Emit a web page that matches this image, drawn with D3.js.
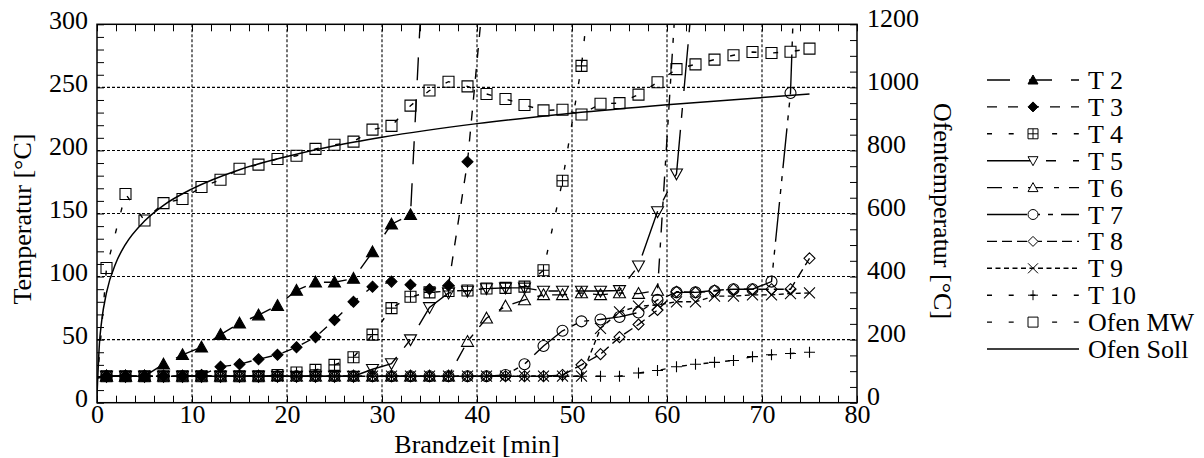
<!DOCTYPE html>
<html>
<head>
<meta charset="utf-8">
<script src="https://cdn.jsdelivr.net/npm/d3@7"></script>
<style>
  body { margin: 0; background: #fff; }
  #chart text { font-size: 26px; fill: #000; }
</style>
</head>
<body>
<svg id="chart" width="1204" height="458"></svg>
<script>
// Brandzeit [min] of the measured points
const minutes = [0, 1, 3, 5, 7, 9, 11, 13, 15, 17, 19, 21, 23, 25, 27, 29, 31, 33, 35, 37,
                 39, 41, 43, 45, 47, 49, 51, 53, 55, 57, 59, 61, 63, 65, 67, 69, 71, 73, 75];

// thermocouples, left axis [°C]
const t2 = [20, 21, 21, 21, 30.5, 38, 44, 54, 63, 69.5, 77, 89, 95.5, 95.5, 98.5, 119.5, 141.5, 149, 450];
const t3 = [20, 21, 21, 21, 21, 21, 22, 28.5, 30.5, 34.5, 38, 44, 52, 65.5, 80, 92, 96, 93.5, 90, 93, 191, 350];
const t4 = [20, 21, 21, 21, 21, 21, 21, 21, 21, 21, 22, 24, 26, 30, 36, 54, 75, 84, 87.5, 88.5,
            89, 90.5, 91, 92, 105, 176, 267, 410];
const t5 = [20, 21, 21, 21, 21, 21, 21, 21, 21, 21, 21, 21, 21, 21, 21, 26.5, 31, 50, 75.5, 87,
            88.5, 90.5, 91, 91, 88.5, 88.5, 88.5, 88.5, 89, 108.5, 151.5, 181.5, 350];
const t6 = [20, 21, 21, 21, 21, 21, 21, 21, 21, 21, 21, 21, 21, 21, 21, 21, 21, 21, 21, 21,
            48.5, 67, 76.5, 81.5, 85.5, 85.5, 87, 85.5, 87, 86.5, 89, 330];
const t7 = [20, 21, 21, 21, 21, 21, 21, 21, 21, 21, 21, 21, 21, 21, 21, 21, 21, 21, 21, 21,
            21, 21, 22, 30.5, 45, 57, 64.5, 66, 68, 71.5, 81.5, 87.5, 87.5, 88.5, 90, 90, 96, 245.5, 680];
const t8 = [20, 21, 21, 21, 21, 21, 21, 21, 21, 21, 21, 21, 21, 21, 21, 21, 21, 21, 21, 21,
            21, 21, 21, 21, 21, 22, 30, 38.5, 52, 62, 73.5, 88, 87.5, 89, 90, 90, 90, 90, 114.5];
const t9 = [20, 21, 21, 21, 21, 21, 21, 21, 21, 21, 21, 21, 21, 21, 21, 21, 21, 21, 21, 21,
            21, 21, 21, 21, 21, 21, 21, 59, 72, 76.5, 77.5, 80, 80, 84.5, 84.5, 85.5, 85.5, 86.5, 87];
const t10 = [20, 21, 21, 21, 21, 21, 21, 21, 21, 21, 21, 21, 21, 21, 21, 21, 21, 21, 21, 21,
             21, 21, 21, 21, 21, 21, 21, 21, 21, 23.5, 25.5, 28.5, 30.5, 32, 33.5, 36.5, 38, 39, 40];

// furnace, right axis [°C]
const ofenMW = [60, 427, 662, 578, 633, 646, 684, 707, 742, 755, 773, 783, 805, 818, 828, 866, 878, 942, 990, 1018,
                1003, 979, 963, 944, 927, 929, 914, 948, 950, 977, 1016, 1058, 1073, 1088, 1102, 1112, 1109, 1113, 1123];
const sollMinutes = [0, 0.25, 0.5, 1, 2, 3, 5, 7, 10, 15, 20, 25, 30, 40, 50, 60, 75];
const ofenSoll = [20, 185, 261, 349, 444, 502, 576, 626, 678, 739, 781, 815, 842, 885, 918, 945, 979];

// axis ticks
const xLabels = [0, 10, 20, 30, 40, 50, 60, 70, 80];
const yLabels = [0, 50, 100, 150, 200, 250, 300];
const yRightLabels = [0, 200, 400, 600, 800, 1000, 1200];

const series = [
  { name: "T 2", values: t2, marker: "triUp", fill: true, dash: "23,19" },
  { name: "T 3", values: t3, marker: "diamond", fill: true, dash: "10,11" },
  { name: "T 4", values: t4, marker: "squarePlus", fill: false, dash: "5,16.7" },
  { name: "T 5", values: t5, marker: "triDown", fill: false, dash: "47,12,10,17" },
  { name: "T 6", values: t6, marker: "triUp", fill: false, dash: "15,11,5,10" },
  { name: "T 7", values: t7, marker: "circle", fill: false, dash: "40,8,5,8,5,8" },
  { name: "T 8", values: t8, marker: "diamond", fill: false, dash: "10,5" },
  { name: "T 9", values: t9, marker: "cross", fill: false, dash: "5,3.5" },
  { name: "T 10", values: t10, marker: "plus", fill: false, dash: "5,16.7" },
  { name: "Ofen MW", values: ofenMW, marker: "square", fill: false, dash: "5,16.7", right: true }
];

const FONT = "'Liberation Serif', Tinos, 'Times New Roman', Times, 'Nimbus Roman', 'Noto Serif', 'DejaVu Serif', serif";
const svg = d3.select("#chart");
const pLeft = 97, pRight = 857, pTop = 24.3, pBottom = 402.7;

const x = d3.scaleLinear().domain([0, 80]).range([pLeft, pRight]);
const y = d3.scaleLinear().domain([0, 300]).range([pBottom, pTop]);
const yR = d3.scaleLinear().domain([0, 1200]).range([pBottom, pTop]);

svg.append("defs").append("clipPath").attr("id", "plotclip")
  .append("rect").attr("x", pLeft).attr("y", pTop).attr("width", pRight - pLeft).attr("height", pBottom - pTop);

// grid
const grid = svg.append("g").attr("stroke", "#000").attr("stroke-width", 1.1).attr("stroke-dasharray", "3,2");
grid.selectAll(".gx").data(xLabels.filter(d => d > 0 && d < 80)).join("line")
  .attr("x1", d => x(d)).attr("x2", d => x(d)).attr("y1", pTop).attr("y2", pBottom);
grid.selectAll(".gy").data(yLabels.filter(d => d > 0 && d < 300)).join("line")
  .attr("x1", pLeft).attr("x2", pRight).attr("y1", d => y(d)).attr("y2", d => y(d));

// minor ticks (inside)
const minorX = d3.range(0, 81, 2);
svg.append("g").attr("transform", `translate(0,${pBottom})`)
  .call(d3.axisBottom(x).tickValues(minorX).tickSize(-7).tickFormat(""))
  .call(g => g.select(".domain").remove());
svg.append("g").attr("transform", `translate(0,${pTop})`)
  .call(d3.axisTop(x).tickValues(minorX).tickSize(-7).tickFormat(""))
  .call(g => g.select(".domain").remove());
svg.append("g").attr("transform", `translate(${pLeft},0)`)
  .call(d3.axisLeft(y).tickValues(d3.range(0, 301, 10)).tickSize(-7).tickFormat(""))
  .call(g => g.select(".domain").remove());
svg.append("g").attr("transform", `translate(${pRight},0)`)
  .call(d3.axisRight(yR).tickValues(d3.range(0, 1201, 50)).tickSize(-7).tickFormat(""))
  .call(g => g.select(".domain").remove());

// tick labels
svg.append("g").attr("transform", `translate(0,${pBottom})`)
  .call(d3.axisBottom(x).tickValues(xLabels).tickSize(0).tickPadding(2))
  .call(g => g.select(".domain").remove());
svg.append("g").attr("transform", `translate(${pLeft},0)`)
  .call(d3.axisLeft(y).tickValues(yLabels).tickSize(0).tickPadding(9))
  .call(g => g.select(".domain").remove())
  .call(g => g.selectAll("text").attr("dy", 4));
svg.append("g").attr("transform", `translate(${pRight},0)`)
  .call(d3.axisRight(yR).tickValues(yRightLabels).tickSize(0).tickPadding(10).tickFormat(d3.format("d")))
  .call(g => g.select(".domain").remove())
  .call(g => g.selectAll("text").attr("dy", 2));
svg.selectAll("g[font-family]").attr("font-family", FONT).attr("font-size", 26);

svg.append("text").attr("x", (pLeft + pRight) / 2).attr("y", 453).attr("text-anchor", "middle").text("Brandzeit [min]");
svg.append("text").attr("transform", "translate(31,219) rotate(-90)").attr("text-anchor", "middle").text("Temperatur [°C]");
svg.append("text").attr("transform", "translate(934,211) rotate(90)").attr("text-anchor", "middle").text("Ofentemperatur [°C]");

// marker shapes
function markerPath(type, r) {
  switch (type) {
    case "triUp": return `M0,${-r}L${r},${r * 0.8}L${-r},${r * 0.8}Z`;
    case "triDown": return `M0,${r}L${r},${-r * 0.8}L${-r},${-r * 0.8}Z`;
    case "diamond": return `M0,${-r}L${r},0L0,${r}L${-r},0Z`;
    case "square": return `M${-r},${-r}H${r}V${r}H${-r}Z`;
    case "squarePlus": return `M${-r},${-r}H${r}V${r}H${-r}ZM0,${-r}V${r}M${-r},0H${r}`;
    case "circle": return `M${r},0A${r},${r} 0 1 1 ${-r},0A${r},${r} 0 1 1 ${r},0Z`;
    case "cross": return `M${-r},${-r}L${r},${r}M${-r},${r}L${r},${-r}`;
    case "plus": return `M${-r},0H${r}M0,${-r}V${r}`;
  }
}

const plot = svg.append("g").attr("clip-path", "url(#plotclip)");

// Ofen Soll
plot.append("path")
  .datum(sollMinutes.map((t, i) => ({ t, v: ofenSoll[i] })))
  .attr("fill", "none").attr("stroke", "#000").attr("stroke-width", 1.5)
  .attr("d", d3.line().x(d => x(d.t)).y(d => yR(d.v)).curve(d3.curveMonotoneX));

series.forEach(s => {
  const sc = s.right ? yR : y;
  const pts = s.values.map((v, i) => ({ t: minutes[i], v }));
  plot.append("path").datum(pts)
    .attr("fill", "none").attr("stroke", "#000").attr("stroke-width", 1.4)
    .attr("stroke-dasharray", s.dash)
    .attr("d", d3.line().x(d => x(d.t)).y(d => sc(d.v)));
  plot.append("g").selectAll("path").data(pts.filter(d => d.t > 0)).join("path")
    .attr("transform", d => `translate(${x(d.t)},${sc(d.v)})`)
    .attr("d", markerPath(s.marker, s.marker === "triUp" || s.marker === "triDown" ? 6 : 5.5))
    .attr("fill", s.fill ? "#000" : "none").attr("stroke", "#000").attr("stroke-width", 1.1);
});

// frame
svg.append("rect").attr("x", pLeft).attr("y", pTop).attr("width", pRight - pLeft).attr("height", pBottom - pTop)
  .attr("fill", "none").attr("stroke", "#000").attr("stroke-width", 1.5);

// legend
const legendItems = series.concat([{ name: "Ofen Soll", dash: null, marker: null }]);
const lg = svg.append("g");
legendItems.forEach((s, i) => {
  const ly = 80 + i * 26.9;
  lg.append("line").attr("x1", 987).attr("x2", 1079).attr("y1", ly).attr("y2", ly)
    .attr("stroke", "#000").attr("stroke-width", 1.4).attr("stroke-dasharray", s.dash);
  if (s.marker) {
    lg.append("path").attr("transform", `translate(1033,${ly})`)
      .attr("d", markerPath(s.marker, 5))
      .attr("fill", s.fill ? "#000" : "#fff").attr("stroke", "#000").attr("stroke-width", 1);
  }
  lg.append("text").attr("x", 1088).attr("y", ly + 9).text(s.name);
});

svg.selectAll("text").attr("font-family", FONT).style("font-family", FONT);
</script>
</body>
</html>
